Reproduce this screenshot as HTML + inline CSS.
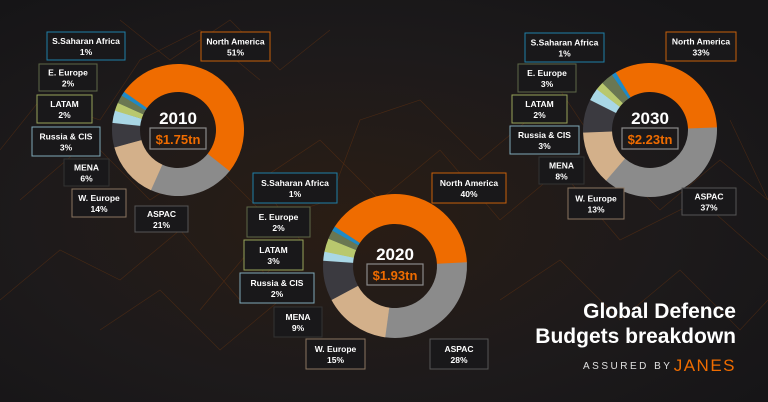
<!DOCTYPE html>
<html><head><meta charset="utf-8"><style>
html,body{margin:0;padding:0;background:#1b1a1c;}
svg{display:block;}
text{font-family:"Liberation Sans",Arial,sans-serif;}
</style></head><body>
<svg width="768" height="402" viewBox="0 0 768 402" xmlns="http://www.w3.org/2000/svg">
<defs>
<radialGradient id="bg" cx="0.45" cy="0.55" r="0.7">
<stop offset="0" stop-color="#2a1d14"/><stop offset="0.6" stop-color="#1d1a1b"/><stop offset="1" stop-color="#161517"/>
</radialGradient>
</defs>
<rect width="768" height="402" fill="url(#bg)"/>
<g stroke="#7a3a0e" stroke-width="0.6" fill="none" opacity="0.45">
<polyline points="0,300 60,250 120,280 180,230 240,300 300,240 260,180 320,140 380,200 440,150 500,220 560,170 620,240 700,200 768,260"/>
<polyline points="20,200 90,140 150,200 210,160 270,220 330,200 360,120 420,100 480,160 540,110"/>
<polyline points="100,330 160,290 220,350 280,300 250,250 200,310"/>
<polyline points="500,300 560,260 620,320 680,270 740,330 768,300"/>
<polyline points="0,150 40,100 100,120 140,60 200,30 260,80"/>
<polyline points="560,90 600,150 660,210 720,160 768,200 730,120"/>
<polyline points="120,20 170,60 230,20 280,70 330,30"/>
</g>

<g id="d2010"></g>
<g id="d2020"></g>
<g id="d2030"></g>

<g id="labels"></g>

<text x="736" y="318" fill="#fff" font-size="21" font-weight="bold" text-anchor="end">Global Defence</text>
<text x="736" y="343" fill="#fff" font-size="21" font-weight="bold" text-anchor="end">Budgets breakdown</text>
<text x="583" y="369" fill="#e0e0e0" font-size="10" letter-spacing="2.5">ASSURED BY</text>
<text x="736" y="371" fill="#ef6c00" font-size="17" letter-spacing="1.5" text-anchor="end">JANES</text>
</svg>
<script>
const NS="http://www.w3.org/2000/svg";
const cols=["#ef6c00","#8b8b8b","#d3b08a","#3b3a40","#a9d7e6","#b9c86e","#6a7752","#1f8ac6"];
function arc(cx,cy,r,ri,a0,a1){
 const rad=a=>(a-90)*Math.PI/180;
 const p=(R,a)=>[cx+R*Math.cos(rad(a)),cy+R*Math.sin(rad(a))];
 const L=(a1-a0)>180?1:0;
 const [x0,y0]=p(r,a0),[x1,y1]=p(r,a1),[x2,y2]=p(ri,a1),[x3,y3]=p(ri,a0);
 return `M${x0},${y0}A${r},${r} 0 ${L} 1 ${x1},${y1}L${x2},${y2}A${ri},${ri} 0 ${L} 0 ${x3},${y3}Z`;
}
function donut(id,cx,cy,r,ri,start,vals,year,amt){
 const g=document.getElementById(id);let a=start;
 const tot=vals.reduce((s,v)=>s+v,0);
 vals.forEach((v,i)=>{const e=a+v/tot*360;const p=document.createElementNS(NS,"path");
  p.setAttribute("d",arc(cx,cy,r,ri,a,e+0.3));p.setAttribute("fill",cols[i]);g.appendChild(p);a=e;});
 g.insertAdjacentHTML("beforeend",`<text x="${cx}" y="${cy-6}" fill="#fff" font-size="17" font-weight="bold" text-anchor="middle">${year}</text>
 <rect x="${cx-28}" y="${cy-2}" width="56" height="21" fill="none" stroke="#8a8a8a" stroke-width="1.2"/>
 <text x="${cx}" y="${cy+14}" fill="#ef6c00" font-size="13" font-weight="bold" text-anchor="middle">${amt}</text>`);
}
donut("d2010",178,130,66,38,-55,[51,21,14,6,3,2,2,1],"2010","$1.75tn");
donut("d2020",395,266,72,42,-57,[40,28,15,9,2,3,2,1],"2020","$1.93tn");
donut("d2030",650,130,67,38,-31,[33,37,13,8,3,2,3,1],"2030","$2.23tn");
const bc={SSA:"#1f7fa8",NA:"#c8600a",EE:"#5e6848",LA:"#98a35a",RU:"#7fa9b8",ME:"#333",WE:"#8a7560",AS:"#555"};
const L=[
["SSA",47,32,125,60,"S.Saharan Africa","1%"],["NA",201,32,270,61,"North America","51%"],
["EE",39,64,97,91,"E. Europe","2%"],["LA",37,95,92,123,"LATAM","2%"],
["RU",32,127,100,156,"Russia &amp; CIS","3%"],["ME",64,159,109,186,"MENA","6%"],
["WE",72,189,126,217,"W. Europe","14%"],["AS",135,206,188,232,"ASPAC","21%"],
["SSA",253,173,337,203,"S.Saharan Africa","1%"],["NA",432,173,506,203,"North America","40%"],
["EE",247,207,310,237,"E. Europe","2%"],["LA",244,240,303,270,"LATAM","3%"],
["RU",240,273,314,303,"Russia &amp; CIS","2%"],["ME",274,307,322,337,"MENA","9%"],
["WE",306,339,365,369,"W. Europe","15%"],["AS",430,339,488,369,"ASPAC","28%"],
["SSA",525,33,604,62,"S.Saharan Africa","1%"],["NA",666,32,736,61,"North America","33%"],
["EE",518,64,576,92,"E. Europe","3%"],["LA",512,95,567,123,"LATAM","2%"],
["RU",510,126,579,154,"Russia &amp; CIS","3%"],["ME",539,157,584,184,"MENA","8%"],
["WE",568,188,624,219,"W. Europe","13%"],["AS",682,188,736,215,"ASPAC","37%"]];
let h="";
L.forEach(([k,x0,y0,x1,y1,t,p])=>{const cx=(x0+x1)/2,cy=(y0+y1)/2;
 h+=`<rect x="${x0}" y="${y0}" width="${x1-x0}" height="${y1-y0}" fill="#19181a" stroke="${bc[k]}" stroke-width="1"/>
 <text x="${cx}" y="${cy-2}" fill="#fff" font-size="8.5" font-weight="bold" text-anchor="middle">${t}</text>
 <text x="${cx}" y="${cy+9}" fill="#fff" font-size="8.5" font-weight="bold" text-anchor="middle">${p}</text>`;});
document.getElementById("labels").innerHTML=h;
</script>
</body></html>
